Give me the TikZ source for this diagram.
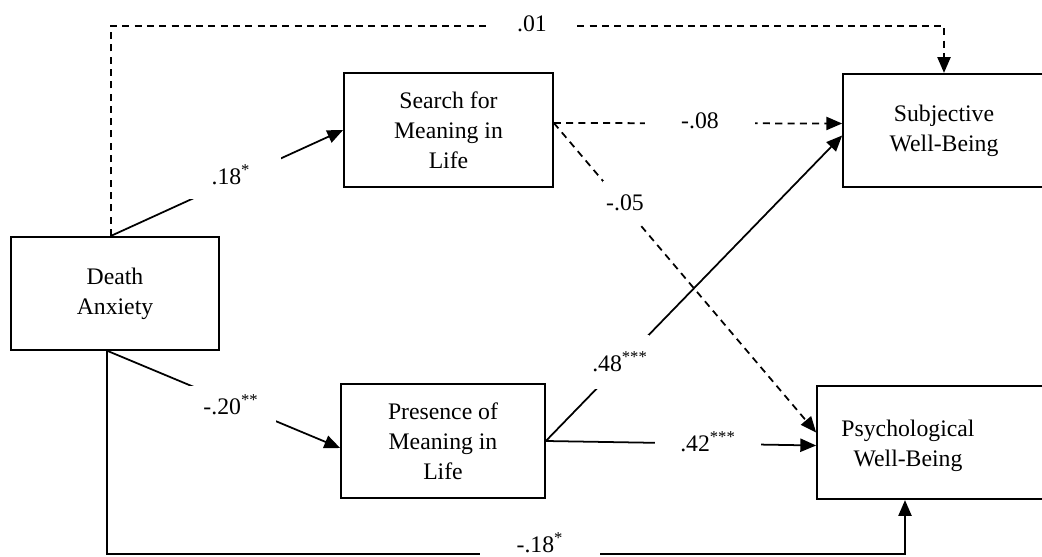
\documentclass[tikz,border=0pt]{standalone}
\usepackage{fontspec}
\setmainfont{Liberation Serif}
\usetikzlibrary{arrows.meta,calc}

\begin{document}
\begin{tikzpicture}[x=0.02cm,y=-0.02cm,
	every node/.style={font=\fontsize{13.5}{17}\selectfont},
	box/.style={draw,line width=1pt,minimum height=2.27cm,align=center,inner sep=0pt},
	link/.style={line width=1pt,-{Triangle[length=9pt,width=7.5pt]}},
	dlink/.style={link,dash pattern=on 4pt off 3pt},
	coef/.style={fill=white,inner sep=1pt}]
	\useasboundingbox (0,0) rectangle (1042,557);

	\node[box,minimum width=4.16cm] (da) at (115,293.5) {Death\\Anxiety};
	\node[box,minimum width=4.18cm] (search) at (448.5,130) {Search for\\Meaning in\\Life};
	\node[box,minimum width=4.08cm] (presence) at (443,441) {Presence of\\Meaning in\\Life};
	\node[box,minimum width=4.04cm] (subj) at (944,130.5) {Subjective\\Well-Being};
	\node[box,minimum width=4.56cm] (psych) at (931,442.5) {};
	\node[align=center] (psychtext) at (908,446) {Psychological\\Well-Being};

	\draw[dlink] ($(da.north)+(-4,0)$) -- ++(0,-210) -| (subj.north);
	\draw[link] ($(da.north)+(-4,0)$) -- (search.west);
	\draw[link] ($(da.south)+(-7,0)$) -- ($(presence.west)+(0,7)$);
	\draw[link] ($(da.south)+(-8,0)$) -- ++(0,203) -| ($(psych.south)+(-26,0)$);
	\draw[dlink] ($(search.east)+(0,-7)$) -- ($(subj.west)+(0,-7)$);
	\draw[dlink] ($(search.east)+(0,-7)$) -- ($(psych.west)+(0,-10)$);
	\draw[link] (presence.east) -- ($(subj.west)+(0,5)$);
	\draw[link] (presence.east) -- ($(psych.west)+(0,3)$);

	\node[coef,minimum width=1.8cm] (c01) at (532,24) {.01};
	\node[coef,minimum width=2cm,minimum height=0.96cm] (c18) at (231,175) {.18\textsuperscript{*}};
	\node[coef,minimum width=1.8cm,minimum height=0.76cm] (c20) at (231,405) {-.20\textsuperscript{**}};
	\node[coef,minimum width=2.4cm,minimum height=0.5cm] (c18b) at (540,543) {-.18\textsuperscript{*}};
	\node[coef,minimum width=2.2cm] (c08) at (700,121) {-.08};
	\node[coef,minimum width=0.9cm,minimum height=0.9cm] (c05) at (625,203) {-.05};
	\node[coef,minimum width=1.1cm,minimum height=1.1cm] (c48) at (620,362) {.48\textsuperscript{***}};
	\node[coef,minimum width=2.12cm] (c42) at (708,442) {.42\textsuperscript{***}};
\end{tikzpicture}
\end{document}
